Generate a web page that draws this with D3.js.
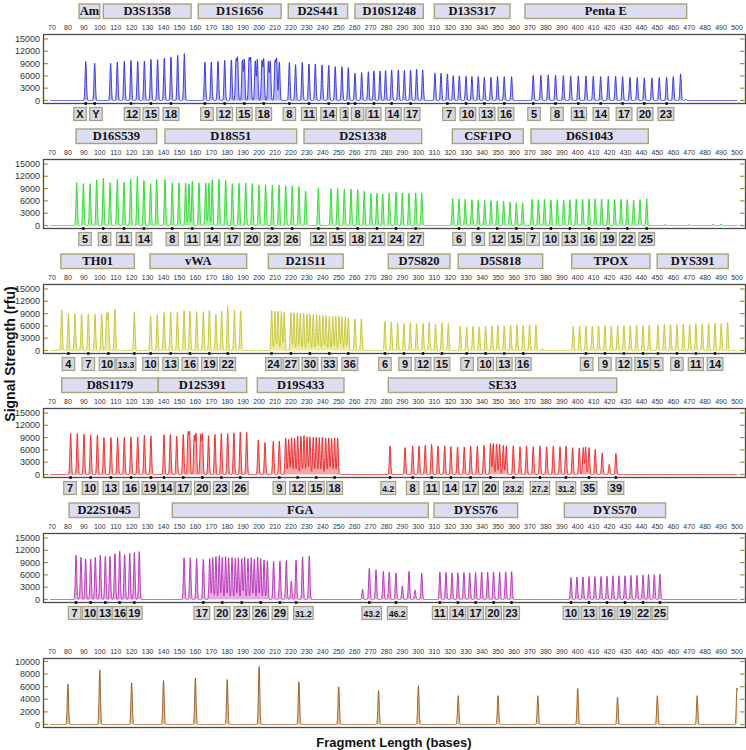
<!DOCTYPE html>
<html><head><meta charset="utf-8">
<script src="https://cdn.jsdelivr.net/npm/d3@7"></script>
<style>body{margin:0;background:#fff}svg{display:block}</style></head>
<body><svg id="c" width="746" height="750"></svg>
<script>
// ---------------- DATA ----------------
const xTickLabels = [70,80,90,100,110,120,130,140,150,160,170,180,190,200,210,220,230,240,250,260,270,280,290,300,310,320,330,340,350,360,370,380,390,400,410,420,430,440,450,460,470,480,490,500];
const yTicksMain = [0,3000,6000,9000,12000,15000];
const yTicksStd = [0,2000,4000,6000,8000,10000];

// peaks: [size in bases, height in rfu]
const bluePeaks = [[91.2,9480],[96.8,9080],
 [106.8,9080],[111.0,9400],[115.4,9570],[119.6,9800],[123.8,9570],[128.0,9650],[132.1,10050],[136.3,9970],[140.5,10380],[144.7,10620],[148.9,11030],[153.1,11430],
 [166.0,9400],[170.0,9400],[174.2,9600],[178.4,9800],[182.6,9900],[185.5,9500],[186.5,10000],[189.5,9700],[190.7,10000],[193.7,9800],[194.7,9900],[197.6,9600],[198.9,10000],[201.8,9500],[202.9,9900],[205.8,9400],[207.0,9500],[210.0,9200],[211.0,9800],[212.7,9400],
 [219.0,9240],[222.9,8760],[227.1,9320],[231.3,8920],[235.3,8920],[239.5,8680],[243.7,8600],[247.8,8270],[252.0,8270],[256.0,8030],
 [260.2,6650],[264.4,6800],[268.6,7050],[272.1,7200],[275.9,7200],[279.4,7300],[283.2,7460],[287.4,7460],[291.2,7300],[295.1,7460],[298.9,7620],[302.7,7460],
 [310.4,6650],[314.2,6650],[318.2,6490],[321.9,6080],[325.7,6000],[329.9,5920],[333.6,5840],[337.6,5840],[341.4,5680],[345.6,5680],[349.7,5840],[353.9,5840],[358.5,5840],
 [372.1,6160],[376.9,6160],[381.5,6240],[386.1,6160],[391.0,6080],[395.6,6000],[400.4,6000],[405.2,6000],[409.8,5920],[414.4,5840],[419.2,5920],[423.8,5920],[428.2,5840],[432.8,5680],[437.4,5600],[441.8,5510],[446.6,5510],[451.2,5600],[455.8,5680],[460.0,5840],[464.6,6490],[468.0,300]];
const greenPeaks = [[85.5,10500],[89.7,10250],[93.9,10250],[98.0,11150],[102.2,11480],[106.4,10410],[111.0,11230],[115.2,10600],[119.4,11310],[123.6,11890],[127.7,10990],[131.9,10250],[135.7,11230],
 [140.9,11230],[145.5,10410],[149.7,10410],[153.9,10410],[156.0,10170],[158.1,10820],[162.3,10410],[166.5,10410],[168.5,10330],[170.6,11150],[174.8,11310],[179.0,11070],[183.2,10250],[187.4,10330],[191.6,10410],[195.7,10250],[199.9,9920],[204.1,9920],[208.3,9760],[212.5,9920],[216.7,9680],[220.8,9590],[225.0,9500],[229.2,8450],
 [237.2,9180],[245.1,9020],[249.3,9020],[253.5,8850],[257.7,8940],[261.9,8770],[266.0,8360],[270.2,7790],[274.0,7870],[277.6,7700],[281.7,7950],[285.9,8120],[289.9,7950],[294.1,7870],[298.3,7950],[302.1,7950],
 [321.5,6560],[325.5,6490],[329.4,6400],[333.6,6320],[337.6,6230],[341.6,6150],[345.6,6070],[349.5,6000],[353.5,5900],[357.5,5740],[361.5,5580],[365.4,5580],
 [371.3,6400],[375.3,6320],[379.2,6400],[383.2,6230],[387.2,6320],[391.2,6230],[395.1,6320],[399.1,6400],[403.1,6400],[407.1,6480],[411.0,6560],[415.0,6480],[419.2,6400],[423.2,6320],[427.2,6400],[431.1,6320],[435.1,6230],[439.1,6320],[443.3,6560],
 [455,250],[470,200],[485,300],[490,350]];
const yellowPeaks = [[76.1,9900],[80.3,9000],[84.4,9000],[88.6,8800],[92.8,8900],[97.0,8800],[101.2,8900],[104.3,8900],[105.4,8900],[109.5,10200],[121.7,9400],
 [131.9,8400],[136.1,8800],[140.3,9300],[144.5,9300],[148.7,9400],[152.9,9800],[156.6,9600],[160.8,9500],[165.0,9500],[168.8,9800],[172.9,8900],[176.5,9600],[180.3,10800],[184.5,9800],[188.4,9700],
 [207.9,9750],[210.0,9590],[211.9,9590],[214.0,9590],[215.8,9340],[220.0,9180],[221.9,9180],[224.0,9180],[225.9,9100],[228.0,9020],[230.1,8940],[231.9,8940],[234.0,8770],[236.1,8770],[238.0,8610],[240.1,8530],[242.0,8530],[244.1,8360],[246.2,8360],[248.1,8450],[250.2,8360],[252.0,8200],[254.1,8120],[256.0,7950],[260.2,7710],[264.2,7710],
 [279.0,7100],[283.0,7000],[287.0,6800],[290.9,6600],[294.9,6800],[298.9,6500],[302.9,6600],[306.8,6800],[310.8,6400],[314.8,6800],[318.8,6600],
 [326.3,6000],[330.3,5800],[334.3,5900],[338.2,5800],[342.2,5900],[346.2,6000],[349.9,6100],[353.9,5900],[357.9,6200],[361.9,6300],[365.8,6200],[369.8,6300],[373.8,6300],[378.0,400],
 [397.2,5900],[401.2,6000],[405.2,6000],[409.2,5900],[413.1,6000],[417.1,6100],[421.1,6000],[425.1,6100],[429.0,6100],[433.0,6000],[437.0,6200],[441.0,6100],[444.9,6200],
 [450.4,6300],[454.4,6400],[458.3,6300],[462.3,6400],[466.3,6500],[470.3,6400],[474.2,6600],[478.2,6500],[482.2,6600],[486.2,6700],[490.1,6600],[494.1,6800]];
const redPeaks = [[81.7,10000],[85.9,10000],[90.1,9840],[94.3,9680],[98.5,9590],[102.6,9020],[107.0,9020],[111.2,9020],[115.4,9020],[119.6,9180],[123.8,9180],[128.0,9590],[132.1,9430],
 [140.3,9750],[144.3,9750],[148.3,9400],[152.4,9750],[155.4,9750],[156.4,9900],[159.3,9300],[160.4,9800],[163.3,9500],[164.4,9750],[168.3,9500],[172.3,9800],[176.3,10000],[180.3,10000],[184.2,10200],[188.2,10300],[192.2,10300],
 [199.5,8400],[203.7,7800],[208.9,8100],[212.7,8200],[216.7,8900],[218.6,8600],[220.4,9000],[222.3,8800],[224.2,9400],[226.3,9300],[228.2,9500],[230.1,9200],[231.9,9200],[234.0,9100],[235.9,9100],[237.8,9000],[239.7,9100],[241.8,8900],[243.7,8900],[245.5,8800],[247.4,8900],[249.3,8900],
 [282.2,6970],[291.6,6560],[296.4,6970],[300.4,6970],[304.3,7130],[308.3,7380],[312.3,6970],[316.5,6970],[320.4,6800],[324.6,6720],[328.8,6720],[332.8,6970],[337.0,6970],[341.2,7130],[345.3,7540],[347.0,7540],[349.1,7460],[351.0,7380],[353.3,7130],[355.2,7000],[359.6,7000],[363.8,6800],[367.9,6970],[372.1,6800],[376.3,6970],[380.5,6800],[384.7,6970],[388.9,6800],[392.6,6970],[396.8,6560],[401.0,6480],[403.5,6600],[405.0,6700],[407.1,6560],[411.0,6150],[415.4,5300],[419.8,2460],[424.0,5170]];
const magentaPeaks = [[85.1,10800],[88.2,10300],[91.1,9900],[94.3,9900],[97.2,10300],[100.3,10800],[103.5,10500],[106.4,10500],[109.5,11200],[112.5,11800],[115.6,11000],[118.8,11300],[121.7,11500],[124.8,11700],
 [152.9,10200],[156.8,10200],[160.8,10000],[165.0,9800],[169.0,10000],[170.9,10300],[172.9,10500],[175.0,10700],[176.9,10300],[179.0,10500],[180.9,10200],[183.0,10300],[185.1,10100],[187.0,10200],[189.1,10000],[190.9,10400],[193.0,10000],[195.1,10200],[197.0,9900],[199.1,10400],[201.0,10100],[203.1,9600],[205.2,9400],[209.1,9300],[213.1,9400],[217.1,9500],[220.2,4500],[223.2,9600],[227.3,10400],[231.5,10600],
 [265.0,2500],[269.2,7650],[273.4,7260],[278.0,6860],[281.7,6700],[285.9,6500],[289.9,3300],[294.1,6860],[297.9,2300],[302.1,6470],
 [313.5,6700],[317.3,6600],[321.1,6500],[324.8,6500],[328.6,6600],[332.2,6500],[335.9,6600],[339.7,6700],[343.5,6700],[347.2,6700],[351.0,6700],[354.8,6700],[358.5,6800],
 [395.8,5400],[399.5,5500],[403.3,5500],[407.1,5600],[410.8,5600],[414.6,5600],[418.4,5700],[422.1,5800],[425.9,5800],[429.7,5800],[433.4,5900],[437.2,5900],[441.0,6000],[444.5,6100],[448.1,6100],[451.6,6200]];
const standardSizes = [80,100,120,140,160,180,200,225,250,275,300,325,350,375,400,425,450,475,500];
const standardHeights = [6420,8680,6630,7000,7370,7160,9210,6790,6000,5370,6160,4580,4580,4580,5740,4320,4580,4580,5790];

// loci: [name, start base, end base]
const blueLoci = [["Am",87,100],["D3S1358",102.2,157.3],["D1S1656",161.8,213.8],["D2S441",218.3,255.6],["D10S1248",260.2,303.1],["D13S317",310,357.5],["Penta E",366.9,468.4]];
const greenLoci = [["D16S539",85.1,135.7],["D18S51",140.9,223.6],["D2S1338",228.2,302.1],["CSF1PO",321.3,365.8],["D6S1043",370.7,444.3]];
const yellowLoci = [["TH01",75.6,121.7],["vWA",131.5,192.2],["D21S11",205.8,252.8],["D7S820",281.1,319.8],["D5S818",325.0,378.0],["TPOX",396.2,445.4],["DYS391",449.9,494.5]];
const redLoci = [["D8S1179",76.1,136.7],["D12S391",136.7,192.2],["D19S433",198.9,253.3],["SE33",281.1,424.5]];
const magentaLoci = [["D22S1045",80.7,124.8],["FGA",145.5,306.2],["DYS576",309.8,362.3],["DYS570",391.6,455.2]];

// allele labels: [text, base, (label centre base if shifted), (visible box width in bases if cut)]
const blueAlleles = [["X",91.2,87.6],["Y",96.8,97.6],["12",119.6,120.3],["15",132.1],["18",144.7],["9",166.0,167.3],["12",178.4],["15",190.7],["18",202.9],["8",219.0],["11",231.3],["14",243.7],["17",256.0,256.0,5.0],["8",260.2,261.8],["11",272.1,271.8],["14",283.2,284.3],["17",295.1,296.0],["7",318.2,319.2],["10",329.9,331.1],["13",341.4,343.1],["16",353.9,355.0],["5",372.1,372.6],["8",386.1,387.0],["11",400.4,400.8],["14",414.4,414.6],["17",428.2,429.1],["20",441.8,442.3],["23",455.8,455.4]];
const greenAlleles = [["5",89.7,90.7],["8",102.2,103.0],["11",115.2],["14",127.7],["8",145.5],["11",158.1],["14",170.6],["17",183.2],["20",195.7],["23",208.3],["26",220.8],["12",237.2],["15",249.3],["18",261.9],["21",274.0],["24",285.9],["27",298.3],["6",325.5],["9",337.6],["12",349.5],["15",361.5],["7",371.3,372.0],["10",383.2],["13",395.1],["16",407.1],["19",419.2],["22",431.1],["25",443.3]];
const yellowAlleles = [["4",80.3],["7",92.8],["10",105.4,104.6],["13.3",121.7,116.5],["10",131.9],["13",144.5],["16",156.6],["19",168.8],["22",180.3],["24",207.9,209.0],["27",220.0],["30",231.9],["33",244.1],["36",256.0,256.9],["6",279.0],["9",290.9,291.6],["12",302.9],["15",314.8],["7",330.3,330.6],["10",342.2],["13",353.9],["16",365.8],["6",405.2,405.6],["9",417.1],["12",429.0],["15",441.0,440.8],["5",450.4,449.6],["8",462.3],["11",474.2],["14",486.2]];
const redAlleles = [["7",81.7,81.3],["10",94.3,93.9],["13",107.0],["16",119.6],["19",132.1,131.5],["14",140.3,141.8],["17",152.4],["20",164.4],["23",176.3],["26",188.2],["9",212.7],["12",224.2],["15",235.9],["18",247.4],["4.2",282.2,281.1],["8",296.4],["11",308.3],["14",320.4],["17",332.8],["20",345.3],["23.2",359.6],["27.2",376.3],["31.2",392.6],["35",407.1],["39",424.0]];
const magentaAlleles = [["7",85.1,84.2],["10",94.3,93.9],["13",103.5,103.3],["16",112.5,112.7],["19",121.7],["17",165.0,164.1],["20",176.9],["23",189.1],["26",201.0],["29",213.1],["31.2",223.2,227.8],["43.2",269.2,270.7],["46.2",285.9,286.7],["11",313.5],["14",324.8],["17",335.9],["20",347.2],["23",358.5],["10",395.8],["13",407.1],["16",418.4],["19",429.7],["22",441.0],["25",451.6]];

// ---------------- DRAW ----------------
const svg = d3.select("#c");
svg.append("rect").attr("width",746).attr("height",750).attr("fill","#fff");
const defs = svg.append("defs");
const x = d3.scaleLinear().domain([70,500]).range([52,737]);
const stdPeaks = standardSizes.map((s,i)=>[s,standardHeights[i]]);
const panels = [
 {line:"#2a2ad8", fill:"#b4b4f4", peaks:bluePeaks, loci:blueLoci, alleles:blueAlleles, ticks:yTicksMain, max:15000},
 {line:"#22d822", fill:"#a8f0a8", peaks:greenPeaks, loci:greenLoci, alleles:greenAlleles, ticks:yTicksMain, max:15000},
 {line:"#c2c232", fill:"#ecec9c", peaks:yellowPeaks, loci:yellowLoci, alleles:yellowAlleles, ticks:yTicksMain, max:15000},
 {line:"#e81e1e", fill:"#f6a8a8", peaks:redPeaks, loci:redLoci, alleles:redAlleles, ticks:yTicksMain, max:15000},
 {line:"#b028b0", fill:"#e8a8e8", peaks:magentaPeaks, loci:magentaLoci, alleles:magentaAlleles, ticks:yTicksMain, max:15000},
 {line:"#94561c", fill:"#e4c49c", peaks:stdPeaks, loci:[], alleles:[], ticks:yTicksStd, max:10000}
];
const sigma = 0.42;
const samples = d3.range(68.8, 500.2, 0.07);
let clipId = 0;

panels.forEach((p,i)=>{
  const top = Math.round(34 + i*124.8);
  const g = svg.append("g");
  const y = d3.scaleLinear().domain([0,p.max]).range([top+66.5, top+(i===5?3.5:5)]);

  // locus header boxes
  const lg = g.selectAll("g.locus").data(p.loci).join("g");
  lg.append("rect").attr("x",d=>x(d[1])).attr("y",top-30).attr("width",d=>x(d[2])-x(d[1])).attr("height",14.5)
    .attr("fill","#dcdcf2").attr("stroke","#a8a478").attr("stroke-width",1.4);
  lg.append("text").attr("x",d=>(x(d[1])+x(d[2]))/2).attr("y",top-18.8).attr("text-anchor","middle")
    .attr("font-family","'Liberation Serif','Times New Roman',serif").attr("font-weight","bold").attr("font-size",12.5).attr("fill","#111")
    .text(d=>d[0]);

  // x tick labels above box
  g.selectAll("text.xt").data(xTickLabels).join("text").attr("class","xt")
    .attr("x",d=>x(d)).attr("y",top-4.5).attr("text-anchor","middle")
    .attr("font-family","'Liberation Sans',Arial,sans-serif").attr("font-size",7).attr("fill","#333")
    .text(d=>d);

  // trace
  const pts = samples.map(b=>{
    let v = 0;
    for (const k of p.peaks){ const d=b-k[0]; if (d>-3 && d<3) v += k[1]*Math.exp(-d*d/(2*sigma*sigma)); }
    return [b,v];
  });
  g.append("path").datum(pts).attr("d",d3.area().x(d=>x(d[0])).y0(y(0)).y1(d=>y(d[1]))).attr("fill",p.fill);
  g.append("path").datum(pts).attr("d",d3.line().x(d=>x(d[0])).y(d=>y(d[1])))
    .attr("fill","none").attr("stroke",p.line).attr("stroke-width",0.9);

  // frame
  g.append("rect").attr("x",43.5).attr("y",top+0.5).attr("width",702).attr("height",69)
    .attr("fill","none").attr("stroke","#4a4a4a").attr("stroke-width",1.3);

  // y ticks
  const yt = g.selectAll("g.yt").data(p.ticks).join("g");
  yt.append("line").attr("x1",44).attr("x2",48).attr("y1",d=>y(d)).attr("y2",d=>y(d)).attr("stroke","#9c9c30").attr("stroke-width",1.2);
  yt.append("line").attr("x1",740).attr("x2",744.5).attr("y1",d=>y(d)).attr("y2",d=>y(d)).attr("stroke","#9c9c30").attr("stroke-width",1.2);
  yt.append("text").attr("x",40).attr("y",d=>y(d)+3).attr("text-anchor","end")
    .attr("font-family","'Liberation Sans',Arial,sans-serif").attr("font-size",9).attr("fill","#333").text(d=>d);

  // allele markers and labels
  const ag = g.selectAll("g.al").data(p.alleles).join("g");
  ag.append("rect").attr("x",d=>x(d[1])-1.2).attr("y",top+68.2).attr("width",2.4).attr("height",2.6).attr("fill","#000");
  ag.each(function(d){
    const gg = d3.select(this);
    const small = d[0].includes(".");
    const cx = x(d.length>2 ? d[2] : d[1]);
    const t = gg.append("text").attr("x",cx).attr("y",top+83.5).attr("text-anchor","middle")
      .attr("font-family","'Liberation Sans',Arial,sans-serif").attr("font-weight","bold")
      .attr("font-size", small?8.5:11).attr("fill","#111").text(d[0]);
    let w = Math.max(12.5, t.node().getComputedTextLength()+(small?3:3.5));
    let bx = cx - w/2;
    if (d.length>3){           // label cut by its neighbour: show only the visible part
      w = x(d[3]+70)-x(70); bx = cx - t.node().getComputedTextLength()/2 - 2;
      const id = "clip"+(clipId++);
      defs.append("clipPath").attr("id",id).append("rect").attr("x",bx).attr("y",top+70).attr("width",w).attr("height",20);
      t.attr("clip-path",`url(#${id})`);
    }
    gg.insert("rect","text").attr("x",bx).attr("y",top+73.5).attr("width",w).attr("height",13)
      .attr("fill","#d8d8e2").attr("stroke","#a0a084").attr("stroke-width",1.2);
  });
});

// axis titles
svg.append("text").attr("transform","translate(15,354) rotate(-90)").attr("text-anchor","middle")
  .attr("font-family","'Liberation Sans',Arial,sans-serif").attr("font-weight","bold").attr("font-size",14).attr("fill","#111")
  .text("Signal Strength (rfu)");
svg.append("text").attr("x",394).attr("y",747).attr("text-anchor","middle")
  .attr("font-family","'Liberation Sans',Arial,sans-serif").attr("font-weight","bold").attr("font-size",13).attr("fill","#111")
  .text("Fragment Length (bases)");
</script></body></html>
